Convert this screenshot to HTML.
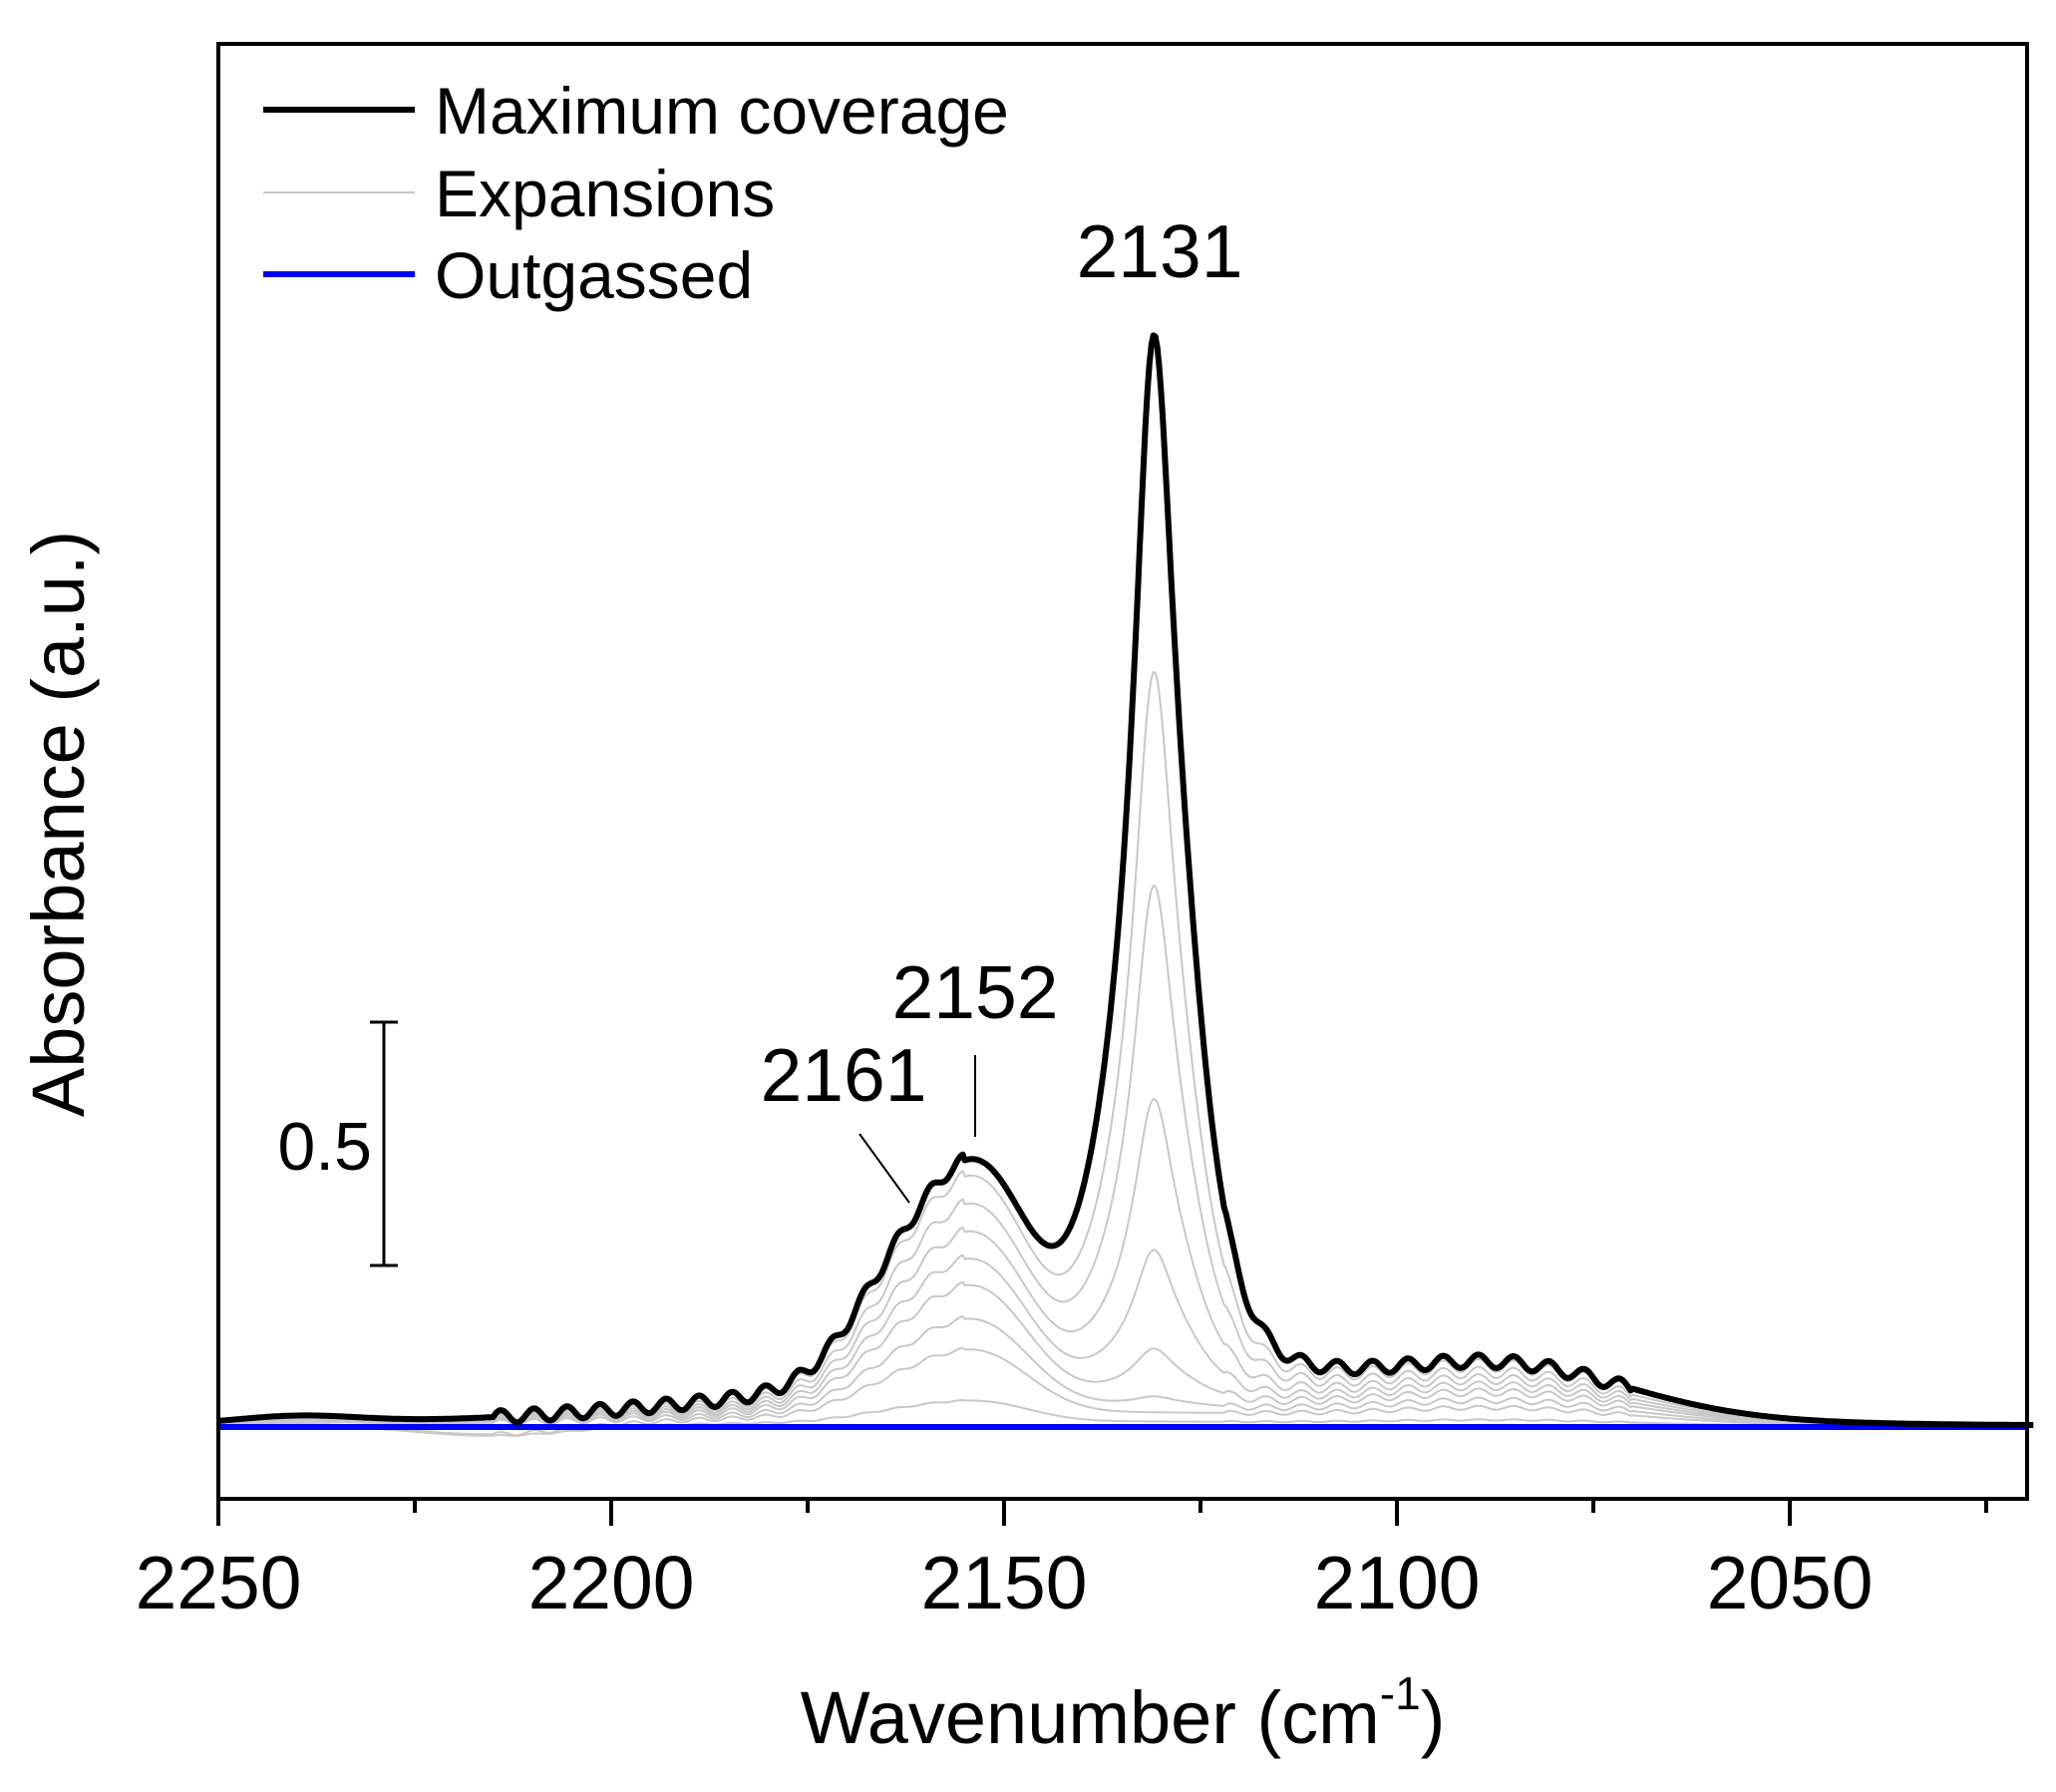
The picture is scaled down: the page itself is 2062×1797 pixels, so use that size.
<!DOCTYPE html>
<html><head><meta charset="utf-8"><style>
html,body{margin:0;padding:0;background:#fff;}
svg{display:block;}
text{font-family:"Liberation Sans",Arial,sans-serif;fill:#000;}
</style></head><body>
<svg id="s" width="2062" height="1797" viewBox="0 0 2062 1797" xmlns="http://www.w3.org/2000/svg">
<g id="curves"></g>
<rect x="219" y="44" width="1814" height="1459" fill="none" stroke="#000" stroke-width="4"/>
<g id="ticks" stroke="#000" stroke-width="4"></g>
<g font-size="75" text-anchor="middle">
<text x="219" y="1613">2250</text>
<text x="613" y="1613">2200</text>
<text x="1007" y="1613">2150</text>
<text x="1401" y="1613">2100</text>
<text x="1795" y="1613">2050</text>
</g>
<text x="1126" y="1748" font-size="74" text-anchor="middle">Wavenumber (cm<tspan font-size="46" dy="-34">-1</tspan><tspan dy="34">)</tspan></text>
<text transform="translate(84,826) rotate(-90)" font-size="74" text-anchor="middle">Absorbance (a.u.)</text>
<line x1="264" y1="110" x2="416" y2="110" stroke="#000" stroke-width="6"/>
<line x1="264" y1="193" x2="416" y2="193" stroke="#c8c8c8" stroke-width="2"/>
<line x1="264" y1="275" x2="416" y2="275" stroke="#0000ff" stroke-width="6"/>
<g font-size="66">
<text x="436" y="134">Maximum coverage</text>
<text x="436" y="217">Expansions</text>
<text x="436" y="299">Outgassed</text>
</g>
<g font-size="75" text-anchor="middle">
<text x="1163" y="278">2131</text>
<text x="978" y="1021">2152</text>
<text x="846" y="1104">2161</text>
</g>
<line x1="978" y1="1058" x2="978" y2="1140" stroke="#000" stroke-width="2"/>
<line x1="862" y1="1137" x2="912" y2="1206" stroke="#000" stroke-width="2"/>
<g stroke="#000" stroke-width="3">
<line x1="385" y1="1025" x2="385" y2="1269"/>
<line x1="371" y1="1025" x2="399" y2="1025"/>
<line x1="371" y1="1269" x2="399" y2="1269"/>
</g>
<text x="373" y="1173" font-size="68" text-anchor="end">0.5</text>
</svg>
<script>
(function(){
var NS="http://www.w3.org/2000/svg";
function X(v){return 219+(2250-v)*7.88;}
var base=1430, k=1.322;
function G(v,c,h,s){return h*Math.exp(-(v-c)*(v-c)/(2*s*s));}
function p1(v){
 var w=0;
 if(v<2215&&v>2155) w+=5*Math.sin((v-2150)*2*Math.PI/4.2);
 if(v<2122&&v>2070) w+=5*Math.sin((v-2120)*2*Math.PI/4.5);
 return G(v,2152,120,6)+G(v,2162,90,7)+G(v,2140,35,40)+G(v,2085,32,15)+G(v,2240,6,8)+w;
}
function p2(v){return 545/(1+Math.pow((v-2131)/3,2))+G(v,2131,225,6)+G(v,2127.5,60,2.5);}
var g=document.getElementById('curves');
function path(a,b,col,w,dip){
 var d="";
 for(var v=2250;v>=2019;v-=0.25){
  var h=a*p1(v)+b*p2(v);
  if(dip) h-=dip*G(v,2215,8,10);
  var y=base-h*k;
  d+=(d?"L":"M")+X(v).toFixed(1)+" "+y.toFixed(1);
 }
 var p=document.createElementNS(NS,"path");
 p.setAttribute("d",d);p.setAttribute("fill","none");
 p.setAttribute("stroke",col);p.setAttribute("stroke-width",w);
 p.setAttribute("stroke-linejoin","round");
 g.appendChild(p);
}
var gr=[[0.95,0.68],[0.85,0.48],[0.75,0.28],[0.65,0.14],[0.55,0.05],[0.42,0.01],[0.3,0],[0.1,0]];
gr.forEach(function(q,i){path(q[0],q[1],"#c8c8c8",2,i>5?1:0);});
var bl=document.createElementNS(NS,"line");
bl.setAttribute("x1",219);bl.setAttribute("x2",2033);bl.setAttribute("y1",base+1);bl.setAttribute("y2",base+1);
bl.setAttribute("stroke","#0000ff");bl.setAttribute("stroke-width",6);g.appendChild(bl);
path(1,1,"#000",6,0);
var t=document.getElementById('ticks');
for(var v=2250;v>=2020;v-=25){
 var major=(v%50===0);
 var l=document.createElementNS(NS,"line");
 l.setAttribute("x1",X(v));l.setAttribute("x2",X(v));
 l.setAttribute("y1",1503);l.setAttribute("y2",major?1530:1517);
 t.appendChild(l);
}
})();
</script>
</body></html>
